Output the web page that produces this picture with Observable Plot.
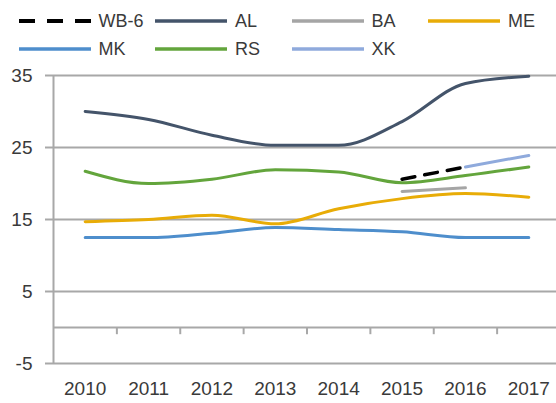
<!DOCTYPE html>
<html>
<head>
<meta charset="utf-8">
<script src="https://cdn.jsdelivr.net/npm/d3@7"></script>
<script src="https://cdn.jsdelivr.net/npm/@observablehq/plot@0.6"></script>
<style>
  html, body { margin: 0; padding: 0; background: #fff; }
  body { width: 556px; height: 403px; overflow: hidden; font-family: "Liberation Sans", Arial, sans-serif; }
  #legend { position: relative; width: 556px; height: 62px; }
  .item { position: absolute; height: 20px; display: flex; align-items: center; font-size: 18px; color: #3a3a3a; }
  .item svg { display: block; margin-right: 8px; }
</style>
</head>
<body>
<div id="legend"></div>
<div id="chart"></div>
<script>
const years = [2010, 2011, 2012, 2013, 2014, 2015, 2016, 2017];
const seriesNames = ["WB-6", "AL", "BA", "ME", "MK", "RS", "XK"];
const WB6 = [null, null, null, null, null, 20.6, 22.3, null];
const AL  = [30.0, 28.9, 26.7, 25.3, 25.3, 28.6, 33.9, 34.9];
const BA  = [null, null, null, null, null, 18.9, 19.4, null];
const ME  = [14.7, 15.0, 15.6, 14.4, 16.5, 17.9, 18.6, 18.1];
const MK  = [12.5, 12.5, 13.1, 13.9, 13.6, 13.3, 12.5, 12.5];
const RS  = [21.7, 20.0, 20.6, 21.9, 21.6, 20.1, 21.1, 22.3];
const XK  = [null, null, null, null, null, null, 22.3, 23.9];
const yTicks = [35, 25, 15, 5, -5];

const seriesValues = [WB6, AL, BA, ME, MK, RS, XK];
const colors = ["#000000", "#44546A", "#A5A5A5", "#E8AC07", "#4E8ECC", "#63A53C", "#8FAADC"];
const dashes = ["13,10", null, null, null, null, null, null];

// Legend
const legend = document.getElementById("legend");
seriesNames.forEach((name, i) => {
  const col = i % 4, row = Math.floor(i / 4);
  const div = document.createElement("div");
  div.className = "item";
  div.style.left = (18.5 + col * 136.5) + "px";
  div.style.top = (row === 0 ? 11 : 39) + "px";
  const dash = dashes[i] ? `stroke-dasharray="16,12"` : "";
  const w = dashes[i] ? 4 : 3.5;
  div.innerHTML = `<svg width="72" height="8"><line x1="0" y1="4" x2="72" y2="4" stroke="${colors[i]}" stroke-width="${w}" ${dash}/></svg><span>${name}</span>`;
  legend.appendChild(div);
});

// Long table
const rows = [];
seriesNames.forEach((name, i) => {
  seriesValues[i].forEach((v, j) => { if (v != null) rows.push({series: name, year: years[j], value: v}); });
});

const gridColor = "#a8a8a8";
const lineMarks = seriesNames.map((name, i) =>
  Plot.line(rows.filter(d => d.series === name), {
    x: "year", y: "value",
    stroke: colors[i],
    strokeWidth: dashes[i] ? 3.5 : 3,
    strokeDasharray: dashes[i] || undefined,
    curve: "monotone-x"
  })
);

const boundaries = years.slice(0, -1).map(y => y + 0.5);

const chart = Plot.plot({
  width: 556,
  height: 341,
  marginLeft: 53,
  marginRight: -4,
  marginTop: 13,
  marginBottom: 40,
  style: { fontFamily: "'Liberation Sans', Arial, sans-serif", fontSize: "19px", color: "#3a3a3a", background: "white", overflow: "visible" },
  x: { type: "linear", domain: [years[0] - 0.5, years[years.length - 1] + 0.5] },
  y: { domain: [-5, 35] },
  marks: [
    Plot.ruleY([...yTicks, 0], { stroke: gridColor, strokeWidth: 2 }),
    Plot.ruleX([years[0] - 0.5], { y1: -5, y2: 35, stroke: gridColor, strokeWidth: 2 }),
    Plot.ruleX(boundaries, { y1: 0, y2: -1, stroke: gridColor, strokeWidth: 2 }),
    Plot.axisY({ ticks: yTicks, tickFormat: d => String(d), tickSize: 8, tickPadding: 13, stroke: gridColor, strokeWidth: 2, label: null, fontSize: 19 }),
    Plot.axisX({ ticks: years, tickFormat: d => String(d), tickSize: 0, tickPadding: 18, label: null, fontSize: 19 }),
    ...lineMarks
  ]
});
document.getElementById("chart").appendChild(chart);
</script>
</body>
</html>
